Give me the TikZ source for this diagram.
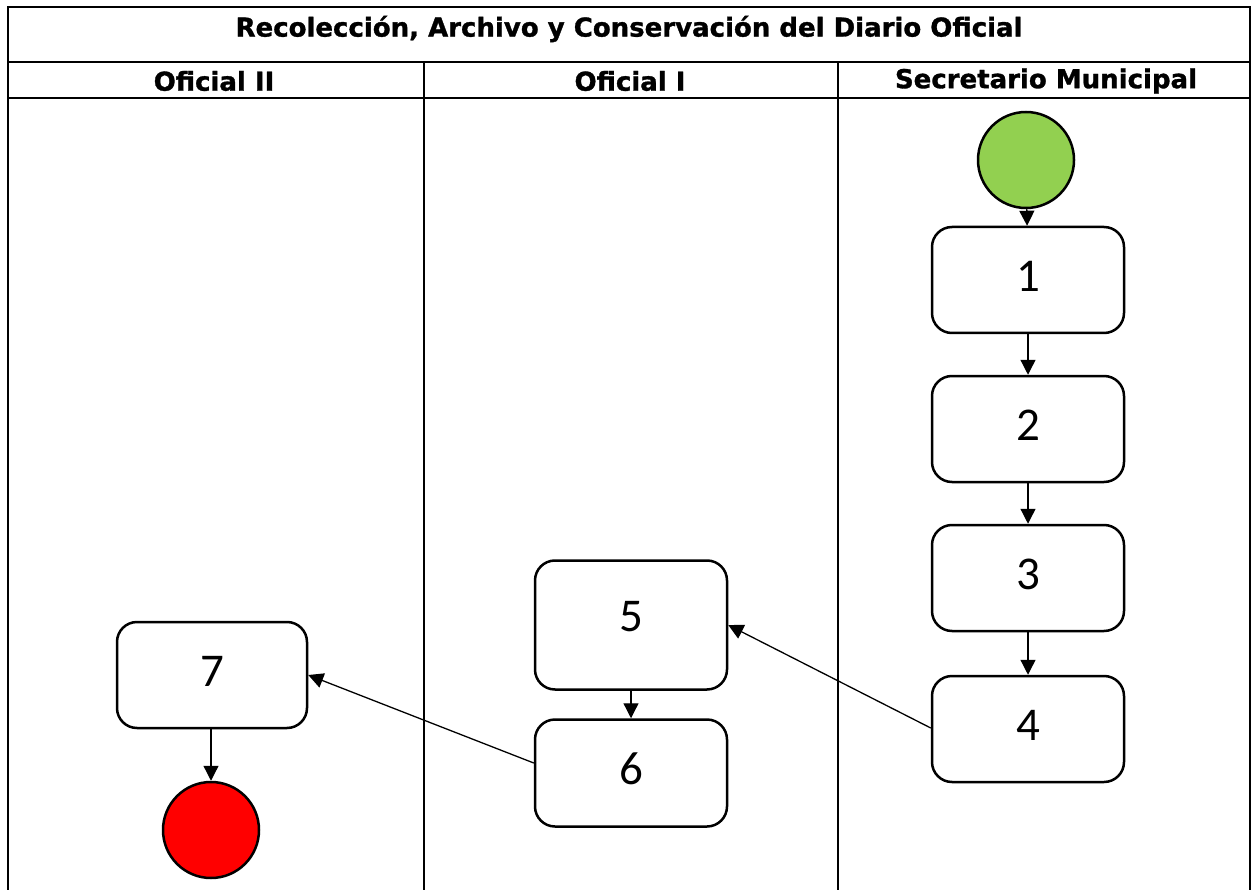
\documentclass[tikz,border=0pt]{standalone}
\usepackage{fontspec}
\setmainfont{DejaVu Sans}
\newfontfamily\hdrfont[FakeBold=1.2]{DejaVu Sans Bold}
\newfontfamily\numfont{Carlito}
\usetikzlibrary{arrows.meta}
\begin{document}
\begin{tikzpicture}[x=1pt,y=-1pt,
  grid/.style={line width=2pt},
  hdr/.style={font=\hdrfont\fontsize{26}{30}\selectfont, inner sep=0pt},
  stepbox/.style={draw, line width=2.5pt, rounded corners=20pt, minimum width=192pt, font=\numfont\fontsize{47}{50}\selectfont, text depth=8pt, inner sep=0pt},
  startc/.style={circle, draw, line width=2.5pt, fill={rgb,255:red,146;green,208;blue,80}, minimum size=96pt, inner sep=0pt},
  endc/.style={circle, draw, line width=2.5pt, fill=red, minimum size=96pt, inner sep=0pt},
  conn/.style={line width=1.3pt, -{Triangle[length=15pt,width=15pt]}}
]
\useasboundingbox (0,0) rectangle (1252,890);
% table
\draw[grid] (8,890) -- (8,7) -- (1250,7) -- (1250,890);
\draw[grid] (8,62) -- (1250,62);
\draw[grid] (8,98) -- (1250,98);
\draw[grid] (424,62) -- (424,890);
\draw[grid] (838,62) -- (838,890);
\node[hdr] (title) at (629,29) {Recolección, Archivo y Conservación del Diario Oficial};
\node[hdr] (h1) at (214,81) {Oficial II};
\node[hdr] (h2) at (630,81) {Oficial I};
\node[hdr] (h3) at (1046,81) {Secretario Municipal};
% nodes
\node[startc] (start) at (1026,160) {};
\node[stepbox, minimum height=106pt] (n1) at (1028,280) {1};
\node[stepbox, minimum height=106pt] (n2) at (1028,429) {2};
\node[stepbox, minimum height=106pt] (n3) at (1028,578) {3};
\node[stepbox, minimum height=106pt] (n4) at (1028,729) {4};
\node[stepbox, minimum height=129pt, text depth=18pt] (n5) at (631,625) {5};
\node[stepbox, minimum height=107pt] (n6) at (631,773) {6};
\node[stepbox, minimum height=106pt, minimum width=190pt] (n7) at (212,675) {7};
\node[endc] (end) at (211,830) {};
% connectors
\draw[conn] (start) -- (n1);
\draw[conn] (n1) -- (n2);
\draw[conn] (n2) -- (n3);
\draw[conn] (n3) -- (n4);
\draw[conn] (n4.west) ++(0,-1) coordinate (a4) (a4) -- (n5.east);
\draw[conn] (n5) -- (n6);
\draw[conn] (n6.west) ++(0,-10) coordinate (a6) (a6) -- (n7.east);
\draw[conn] (n7.south -| end) -- (end);
\end{tikzpicture}
\end{document}
